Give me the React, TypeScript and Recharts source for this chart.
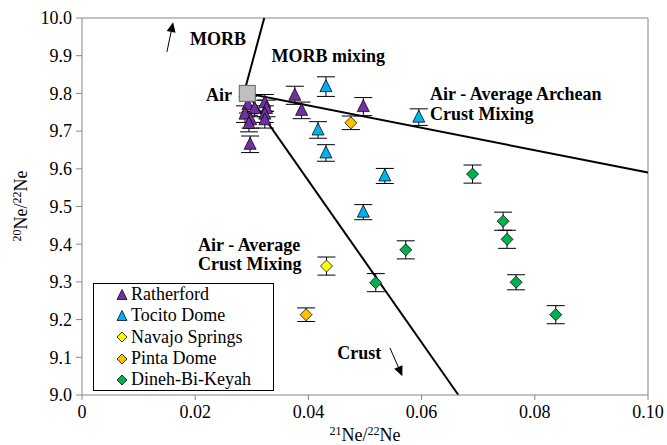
import { ScatterChart, Scatter, XAxis, YAxis, ErrorBar, ReferenceLine, ReferenceDot, Legend, Label } from 'recharts'

const FONT = 'Liberation Serif'
const AXIS = '#868686'

// 21Ne/22Ne, 20Ne/22Ne and 1-sigma error on 20Ne/22Ne for each field
const ratherfordX = [0.0293, 0.0305, 0.0323, 0.0326, 0.0288, 0.0298, 0.0295, 0.0323, 0.0323, 0.0297, 0.0376, 0.0388, 0.0497]
const ratherfordY = [9.77, 9.76, 9.775, 9.76, 9.745, 9.73, 9.72, 9.745, 9.73, 9.665, 9.795, 9.755, 9.765]
const ratherfordErr = [0.022, 0.022, 0.022, 0.022, 0.022, 0.022, 0.022, 0.022, 0.022, 0.022, 0.024, 0.022, 0.024]

const tocitoX = [0.0431, 0.0417, 0.0431, 0.0535, 0.0497, 0.0595]
const tocitoY = [9.818, 9.703, 9.642, 9.581, 9.485, 9.737]
const tocitoErr = [0.026, 0.022, 0.022, 0.02, 0.02, 0.022]

const navajoX = [0.0432]
const navajoY = [9.342]
const navajoErr = [0.024]

const pintaX = [0.0475, 0.0396]
const pintaY = [9.722, 9.213]
const pintaErr = [0.018, 0.018]

const dinehX = [0.069, 0.0744, 0.0751, 0.0572, 0.0767, 0.0837, 0.0519]
const dinehY = [9.586, 9.461, 9.413, 9.385, 9.299, 9.213, 9.298]
const dinehErr = [0.024, 0.024, 0.024, 0.024, 0.02, 0.024, 0.024]

const airX = [0.0292]
const airY = [9.8]

const xTicks = [0, 0.02, 0.04, 0.06, 0.08, 0.1]
const yTicks = [9.0, 9.1, 9.2, 9.3, 9.4, 9.5, 9.6, 9.7, 9.8, 9.9, 10.0]

// mixing lines from air
const morbLine = [{ x: 0.0286, y: 9.8 }, { x: 0.0322, y: 10.0 }]
const archeanLine = [{ x: 0.0292, y: 9.8 }, { x: 0.1, y: 9.59 }]
const crustLine = [{ x: 0.0292, y: 9.8 }, { x: 0.0665, y: 9.0 }]
const morbArrow = [{ x: 0.015, y: 9.91 }, { x: 0.0161, y: 9.989 }]
const crustArrow = [{ x: 0.0544, y: 9.125 }, { x: 0.0566, y: 9.05 }]

const notes = [
  { x: 0.0191, y: 9.944, anchor: 'start', lines: ['MORB'] },
  { x: 0.0335, y: 9.9, anchor: 'start', lines: ['MORB mixing'] },
  { x: 0.0265, y: 9.797, anchor: 'end', lines: ['Air'] },
  { x: 0.0615, y: 9.8, anchor: 'start', lines: ['Air - Average Archean', 'Crust Mixing'] },
  { x: 0.0205, y: 9.4, anchor: 'start', lines: ['Air - Average', 'Crust Mixing'] },
  { x: 0.0451, y: 9.111, anchor: 'start', lines: ['Crust'] },
]

const zip = (xs: number[], ys: number[], errs?: number[]) =>
  xs.map((x, i) => ({ x, y: ys[i], err: errs ? errs[i] : 0 }))

const series = [
  { name: 'Ratherford', color: '#7030A0', kind: 'tri', data: zip(ratherfordX, ratherfordY, ratherfordErr) },
  { name: 'Tocito Dome', color: '#00B0F0', kind: 'tri', data: zip(tocitoX, tocitoY, tocitoErr) },
  { name: 'Navajo Springs', color: '#FFFF00', kind: 'dia', data: zip(navajoX, navajoY, navajoErr) },
  { name: 'Pinta Dome', color: '#FFC000', kind: 'dia', data: zip(pintaX, pintaY, pintaErr) },
  { name: 'Dineh-Bi-Keyah', color: '#00B050', kind: 'dia', data: zip(dinehX, dinehY, dinehErr) },
]

const Triangle = ({ cx, cy, fill, s = 6 }: any) => (
  <polygon points={`${cx},${cy - s - 1} ${cx - s},${cy + s - 1} ${cx + s},${cy + s - 1}`} fill={fill} stroke="#000" strokeWidth={0.75} />
)

const Diamond = ({ cx, cy, fill, s = 6 }: any) => (
  <polygon points={`${cx},${cy - s} ${cx + s},${cy} ${cx},${cy + s} ${cx - s},${cy}`} fill={fill} stroke="#000" strokeWidth={0.75} />
)

const AirSquare = ({ cx, cy }: any) => (
  <rect x={cx - 8} y={cy - 8} width={16} height={16} fill="#BFBFBF" stroke="#666" strokeWidth={1} />
)

const Arrow = ({ x1, y1, x2, y2 }: any) => {
  const a = Math.atan2(y2 - y1, x2 - x1)
  const len = 10
  const w = 4.5
  const bx = x2 - len * Math.cos(a)
  const by = y2 - len * Math.sin(a)
  const px = -Math.sin(a) * w
  const py = Math.cos(a) * w
  return (
    <g>
      <line x1={x1} y1={y1} x2={bx} y2={by} stroke="#000" strokeWidth={1} />
      <polygon points={`${x2},${y2} ${bx + px},${by + py} ${bx - px},${by - py}`} fill="#000" />
    </g>
  )
}

const Note = ({ viewBox, anchor, lines }: any) => (
  <text x={viewBox.x} y={viewBox.y} textAnchor={anchor} fontFamily={FONT} fontWeight="bold" fontSize={18} fill="#000">
    {lines.map((t: string, i: number) => (
      <tspan key={t} x={viewBox.x} dy={i === 0 ? '0.35em' : '1.1em'}>{t}</tspan>
    ))}
  </text>
)

const RatioLabel = ({ x, y, top, rotate }: any) => (
  <text transform={`translate(${x},${y})${rotate ? ' rotate(-90)' : ''}`} textAnchor="middle" fontFamily={FONT} fontSize={18} fill="#000">
    <tspan fontSize={12} dy={-6}>{top}</tspan>
    <tspan dy={6}>Ne/</tspan>
    <tspan fontSize={12} dy={-6}>22</tspan>
    <tspan dy={6}>Ne</tspan>
  </text>
)

const LegendBox = () => (
  <div style={{ width: 181, height: 108, boxSizing: 'border-box', border: '1px solid #000', background: '#fff', padding: '0 0 0 22px', fontFamily: FONT, fontSize: 18, color: '#000' }}>
    {series.map(s => (
      <div key={s.name} style={{ height: 21.3, display: 'flex', alignItems: 'center' }}>
        <svg width={12} height={12} style={{ marginRight: 3 }}>
          {s.kind === 'tri'
            ? <Triangle cx={6} cy={6.5} s={5} fill={s.color} />
            : <Diamond cx={6} cy={6} s={5} fill={s.color} />}
        </svg>
        <span>{s.name}</span>
      </div>
    ))}
  </div>
)

export default function App() {
  const tick = { fontFamily: FONT, fontSize: 18, fill: '#000' }
  return (
    <div style={{ position: 'absolute', left: 0, top: 0, fontFamily: FONT }}>
      <ScatterChart width={667} height={445} margin={{ top: 18, right: 19, bottom: 20, left: 22 }}>
        <XAxis
          type="number"
          dataKey="x"
          domain={[0, 0.1]}
          ticks={xTicks}
          tickFormatter={(v: number) => (v === 0 ? '0' : v.toFixed(2))}
          tick={tick}
          tickSize={5}
          tickMargin={5}
          axisLine={{ stroke: AXIS }}
          tickLine={{ stroke: AXIS }}
          allowDataOverflow
        >
          <Label content={() => <RatioLabel x={365} y={441} top="21" />} />
        </XAxis>
        <YAxis
          type="number"
          dataKey="y"
          domain={[9, 10]}
          ticks={yTicks}
          tickFormatter={(v: number) => v.toFixed(1)}
          tick={tick}
          tickSize={6}
          tickMargin={4}
          width={60}
          axisLine={{ stroke: AXIS }}
          tickLine={{ stroke: AXIS }}
          allowDataOverflow
        >
          <Label content={() => <RatioLabel x={27} y={206} top="20" rotate />} />
        </YAxis>

        <ReferenceLine y={10} stroke={AXIS} />
        <ReferenceLine x={0.1} stroke={AXIS} />

        <ReferenceLine segment={morbLine} stroke="#000" strokeWidth={2} />
        <ReferenceLine segment={archeanLine} stroke="#000" strokeWidth={2} />
        <ReferenceLine segment={crustLine} stroke="#000" strokeWidth={2} />
        <ReferenceLine segment={morbArrow} shape={(p: any) => <Arrow {...p} />} />
        <ReferenceLine segment={crustArrow} shape={(p: any) => <Arrow {...p} />} />

        {notes.map(n => (
          <ReferenceDot
            key={n.lines[0] + n.x}
            x={n.x}
            y={n.y}
            r={0}
            fill="none"
            stroke="none"
            label={(p: any) => <Note viewBox={p.viewBox} anchor={n.anchor} lines={n.lines} />}
          />
        ))}

        {series.map(s => (
          <Scatter
            key={s.name}
            name={s.name}
            data={s.data}
            fill={s.color}
            isAnimationActive={false}
            shape={(p: any) => (s.kind === 'tri' ? <Triangle cx={p.cx} cy={p.cy} fill={s.color} /> : <Diamond cx={p.cx} cy={p.cy} fill={s.color} />)}
          >
            <ErrorBar dataKey="err" direction="y" width={9} stroke="#000" strokeWidth={1} />
          </Scatter>
        ))}
        <Scatter name="Air" data={zip(airX, airY)} isAnimationActive={false} shape={(p: any) => <AirSquare cx={p.cx} cy={p.cy} />} legendType="none" />

        <Legend
          layout="vertical"
          align="center"
          verticalAlign="middle"
          wrapperStyle={{ position: 'absolute', left: 93, top: 283, width: 181, height: 108 }}
          content={() => <LegendBox />}
        />
      </ScatterChart>
    </div>
  )
}
